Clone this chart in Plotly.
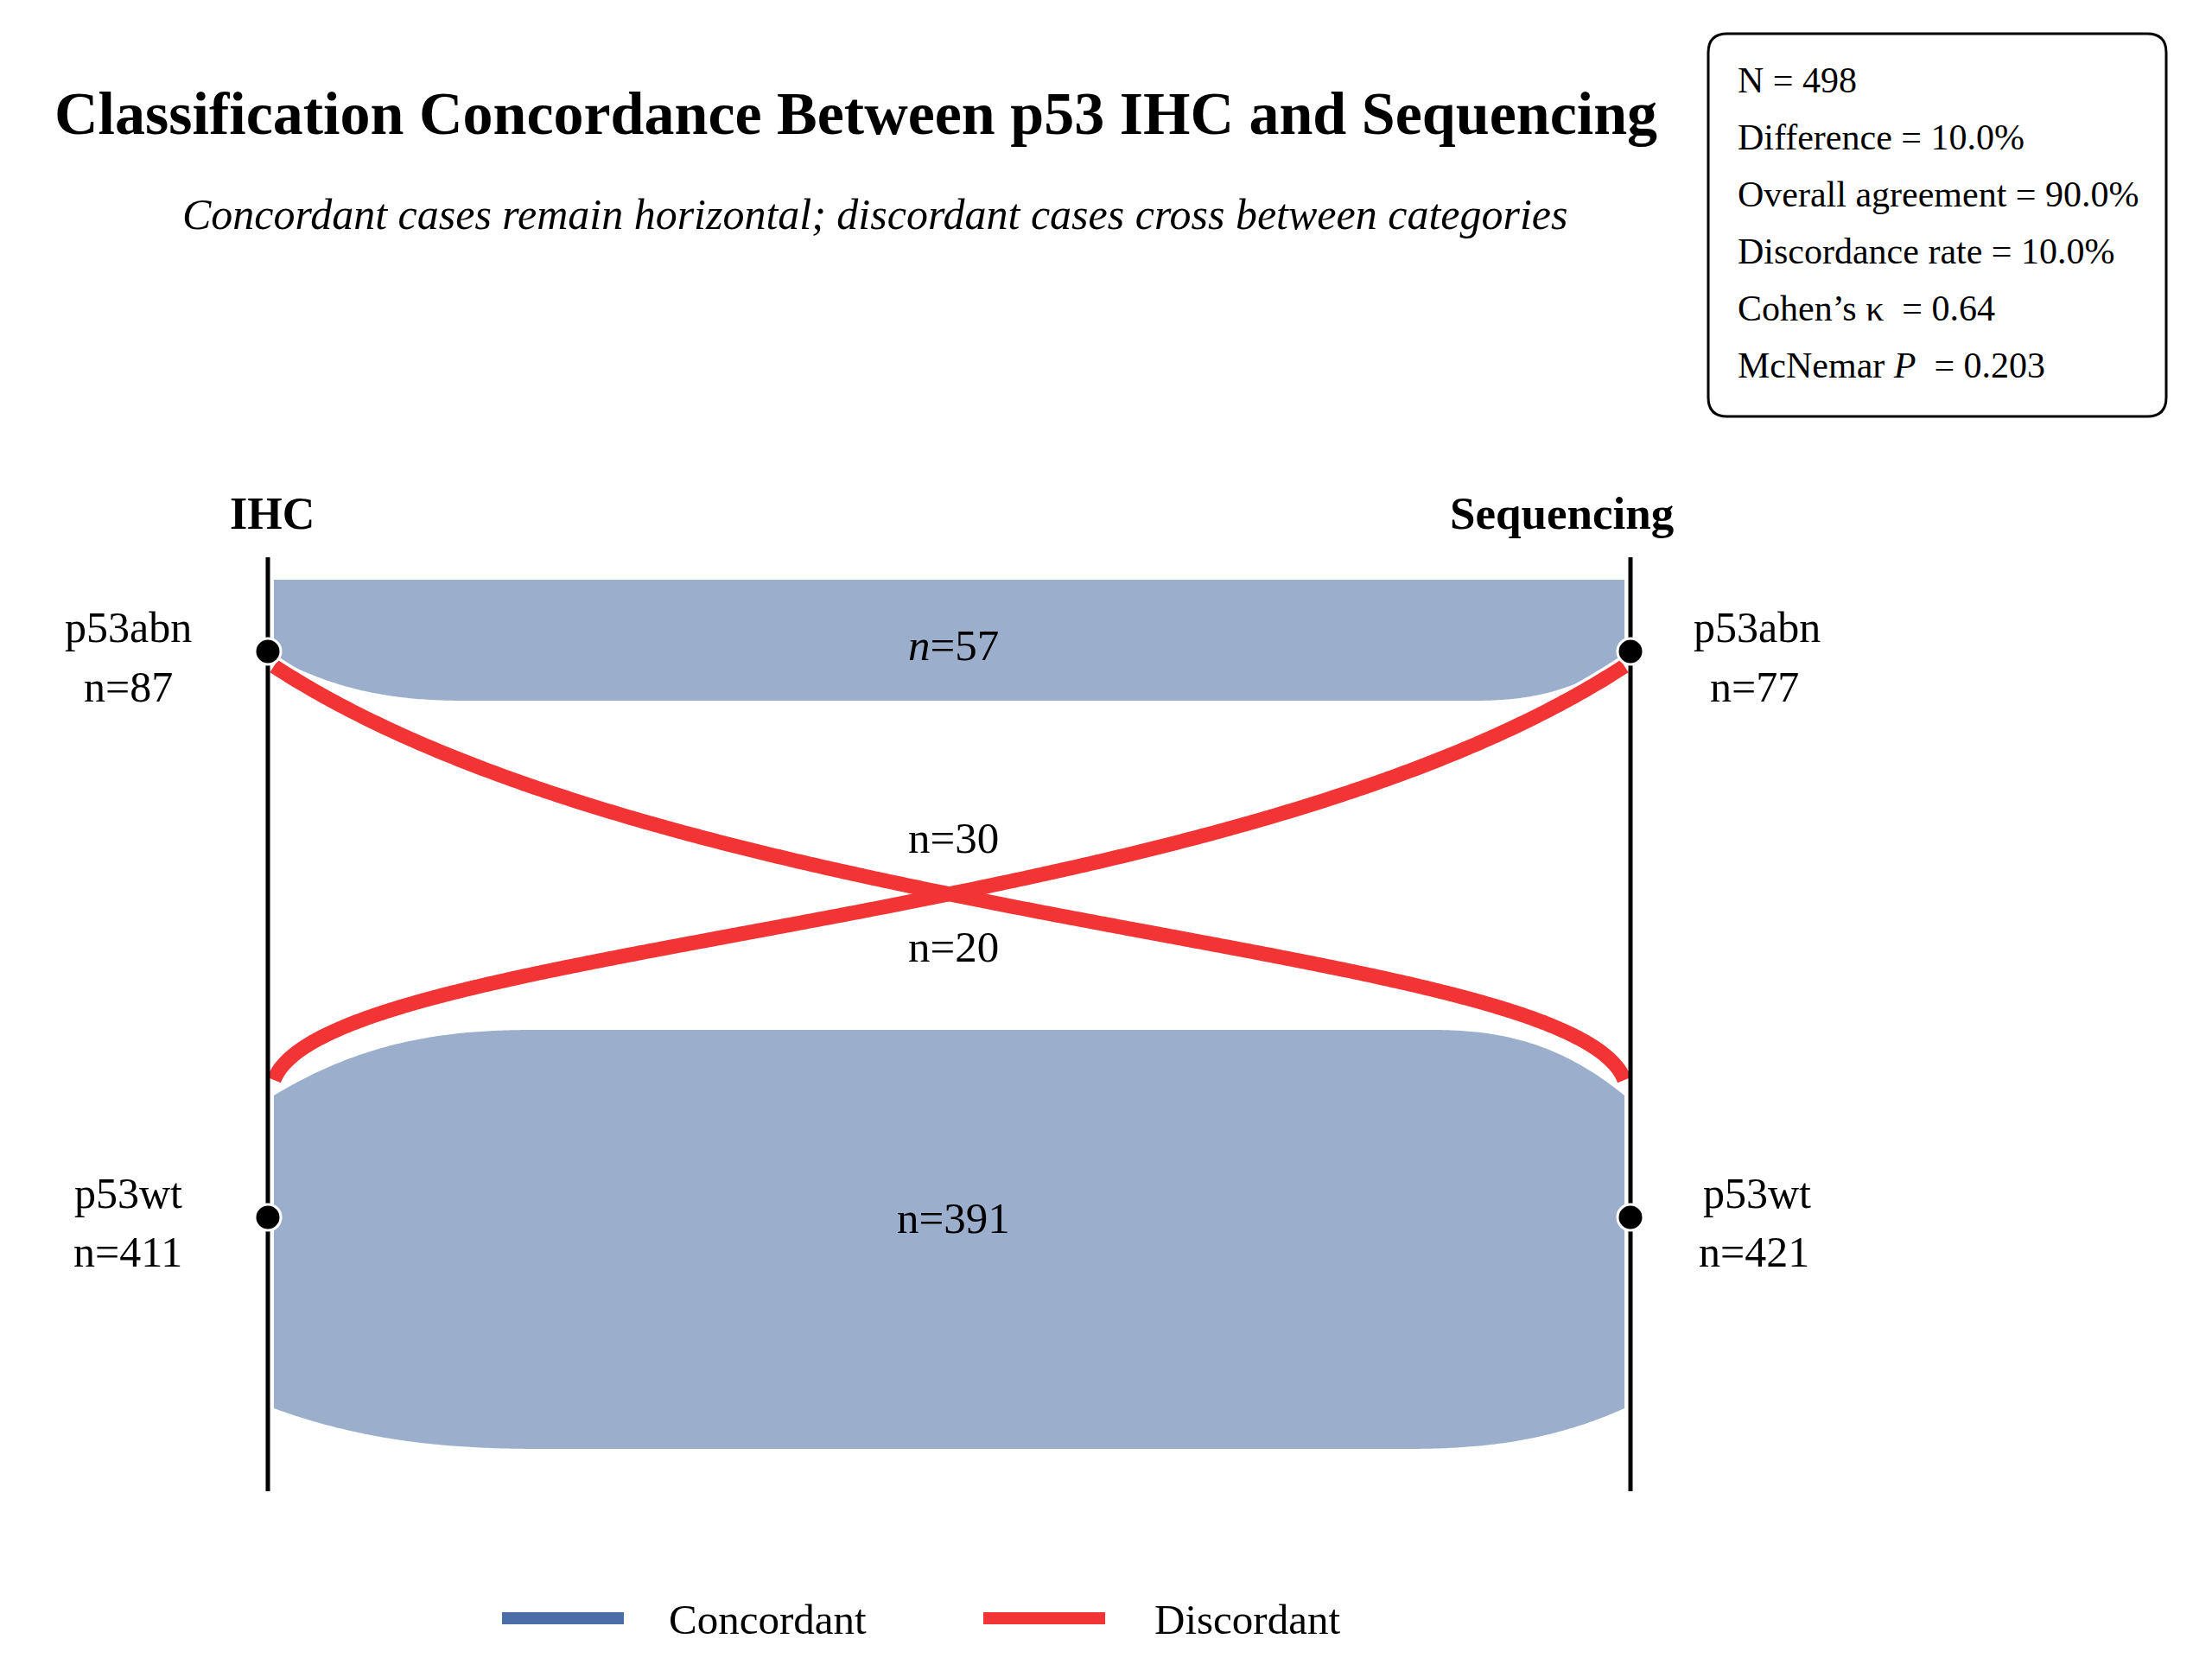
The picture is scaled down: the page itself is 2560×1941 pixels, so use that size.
import numpy as np
import plotly.graph_objects as go

# ---------------- data ----------------
categories = ["p53abn", "p53wt"]
ihc_totals = [87, 411]
seq_totals = [77, 421]
concordant = [57, 391]      # abn->abn, wt->wt
discordant = [30, 20]       # IHC abn -> Seq wt, IHC wt -> Seq abn
axis_titles = ["IHC", "Sequencing"]
legend_labels = ["Concordant", "Discordant"]
stats_lines = [
    "N = 498",
    "Difference = 10.0%",
    "Overall agreement = 90.0%",
    "Discordance rate = 10.0%",
    "Cohen\u2019s \u03ba\u00a0 = 0.64",
    "McNemar <i>P</i>\u00a0 = 0.203",
]
title_text = "Classification Concordance Between p53 IHC and Sequencing"
subtitle_text = "Concordant cases remain horizontal; discordant cases cross between categories"

# ---------------- layout constants (screen pixels) ----------------
FIG_W, FIG_H = 2544, 1925
OFF = 8
XL, XR = 310, 1887
BXL, BXR = 317, 1880
AX_TOP, AX_BOT = 645, 1726
NODE_Y = [754, 1409]
FONT = "Liberation Serif"
BLUE_FILL = "#9BAFCC"
BLUE = "#4A6FA8"
RED = "#F23434"

def corner(x_edge, x_flat, y_edge, y_flat, p=2.5, n=80):
    s = np.linspace(0, 1, n)
    x = x_edge + s * (x_flat - x_edge)
    y = y_flat + (y_edge - y_flat) * (1 - s) ** p
    return list(x), list(y)

def band_top():
    xs, ys = [BXL, BXR, BXR], [671, 671, 761]
    cx, cy = corner(BXR, BXR - 180, 761, 811)
    xs += cx; ys += cy
    cx, cy = corner(BXL, BXL + 230, 760, 811)
    xs += cx[::-1]; ys += cy[::-1]
    return xs + [BXL], ys + [671]

def band_bottom():
    xs, ys = [], []
    cx, cy = corner(BXL, BXL + 310, 1268, 1192)
    xs += cx; ys += cy
    cx, cy = corner(BXR, BXR - 230, 1268, 1192)
    xs += cx[::-1]; ys += cy[::-1]
    cx, cy = corner(BXR, BXR - 260, 1630, 1677)
    xs += cx; ys += cy
    cx, cy = corner(BXL, BXL + 320, 1630, 1677)
    xs += cx[::-1]; ys += cy[::-1]
    return xs + [xs[0]], ys + [ys[0]]

def bezier_curve(y_start, y_end, n=400):
    # normalised cubic bezier, steep at both ends
    p = np.array([[0, 0], [0.04, 0.34], [0.70, 0.36], [1, 1]])
    t = np.linspace(0, 1, n)[:, None]
    b = ((1 - t) ** 3) * p[0] + 3 * ((1 - t) ** 2) * t * p[1] + 3 * (1 - t) * t ** 2 * p[2] + t ** 3 * p[3]
    x = BXL + b[:, 0] * (BXR - BXL)
    y = y_start + b[:, 1] * (y_end - y_start)
    return x, y

fig = go.Figure()

# concordant bands
for xs, ys in (band_top(), band_bottom()):
    fig.add_trace(go.Scatter(x=xs, y=ys, mode="lines", fill="toself", fillcolor=BLUE_FILL,
                             line=dict(width=0, simplify=False), hoverinfo="skip"))

# discordant ribbons
RED_TOP, RED_BOT = 771, 1250
x2, y2 = bezier_curve(RED_BOT, RED_TOP)   # IHC wt -> Seq abn
x1, y1 = (BXL + BXR) - x2, y2              # mirrored: IHC abn -> Seq wt
for xx, yy in ((x1, y1), (x2, y2)):
    fig.add_trace(go.Scatter(x=xx, y=yy, mode="lines",
                             line=dict(color="white", width=24, simplify=False),
                             hoverinfo="skip"))
for xx, yy in ((x1, y1), (x2, y2)):
    fig.add_trace(go.Scatter(x=xx, y=yy, mode="lines",
                             line=dict(color=RED, width=17, simplify=False),
                             hoverinfo="skip"))

# vertical axes
for xa in (XL, XR):
    fig.add_trace(go.Scatter(x=[xa, xa], y=[AX_TOP, AX_BOT], mode="lines",
                             line=dict(color="black", width=5), hoverinfo="skip"))

# nodes
fig.add_trace(go.Scatter(x=[XL, XL, XR, XR], y=NODE_Y + NODE_Y, mode="markers",
                         marker=dict(size=30, color="black", line=dict(color="white", width=3)),
                         hoverinfo="skip"))

# legend samples
LEG_Y = 1873
fig.add_trace(go.Scatter(x=[581, 722], y=[LEG_Y, LEG_Y], mode="lines",
                         line=dict(color=BLUE, width=14), hoverinfo="skip"))
fig.add_trace(go.Scatter(x=[1138, 1279], y=[LEG_Y, LEG_Y], mode="lines",
                         line=dict(color=RED, width=14), hoverinfo="skip"))

ann = []
def txt(x, y, text, size, xanchor="center", weight=None, style=None):
    f = dict(family=FONT, size=size, color="black")
    if weight:
        f["weight"] = weight
    if style:
        f["style"] = style
    ann.append(dict(x=x, y=y, xref="x", yref="y", text=text, showarrow=False,
                    xanchor=xanchor, yanchor="middle", font=f))

txt(990, 131, title_text, 70, weight="bold")
txt(1013, 248, subtitle_text, 50, style="italic")
txt(315, 594, axis_titles[0], 52, weight="bold")
txt(1807, 594, axis_titles[1], 53, weight="bold")

LAB_Y = [[726, 795], [1381, 1449]]
for i, cat in enumerate(categories):
    txt(148, LAB_Y[i][0], cat, 50)
    txt(148, LAB_Y[i][1], f"n={ihc_totals[i]}", 50)
    txt(2033, LAB_Y[i][0], cat, 50)
    txt(2030, LAB_Y[i][1], f"n={seq_totals[i]}", 50)

CX = 1103
txt(CX, 747, f"<i>n</i>={concordant[0]}", 51)
txt(CX, 1410, f"n={concordant[1]}", 51)
txt(CX, 970, f"n={discordant[0]}", 51)
txt(CX, 1096, f"n={discordant[1]}", 51)

for i, s in enumerate(stats_lines):
    txt(2009, 93 + 66 * i, s, 42, xanchor="left")

txt(772, 1874, legend_labels[0], 49, xanchor="left")
txt(1334, 1874, legend_labels[1], 49, xanchor="left")

# stats box
bx0, bx1, by0, by1, r = 1977, 2507, 39, 482, 22
box_path = (f"M {bx0+r},{by0} L {bx1-r},{by0} Q {bx1},{by0} {bx1},{by0+r} "
            f"L {bx1},{by1-r} Q {bx1},{by1} {bx1-r},{by1} L {bx0+r},{by1} "
            f"Q {bx0},{by1} {bx0},{by1-r} L {bx0},{by0+r} Q {bx0},{by0} {bx0+r},{by0} Z")

fig.update_layout(
    width=FIG_W, height=FIG_H,
    margin=dict(l=0, r=0, t=0, b=0, pad=0),
    paper_bgcolor="white", plot_bgcolor="white",
    showlegend=False,
    xaxis=dict(range=[OFF, OFF + FIG_W], visible=False, fixedrange=True),
    yaxis=dict(range=[OFF + FIG_H, OFF], visible=False, fixedrange=True),
    annotations=ann,
    shapes=[dict(type="path", path=box_path, xref="x", yref="y",
                 line=dict(color="black", width=3), fillcolor="rgba(0,0,0,0)", layer="above")],
)

fig.write_html("out.html")
